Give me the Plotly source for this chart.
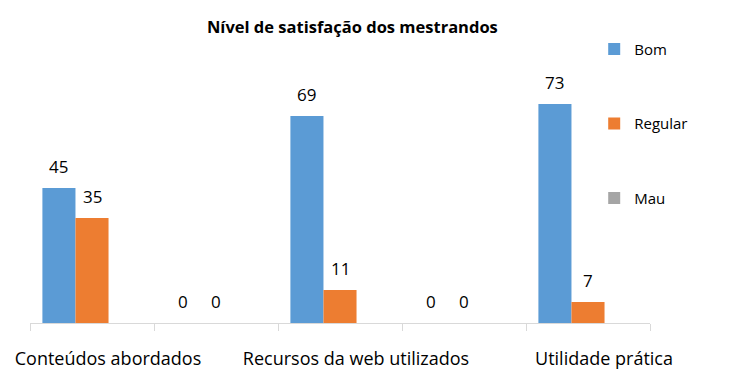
import plotly.graph_objects as go

categories = ["Conteúdos abordados", " ", "Recursos da web utilizados", "  ", "Utilidade prática"]
bom = [45, 0, 69, 0, 73]
regular = [35, 0, 11, 0, 7]
mau = [None, None, None, None, None]

FONT = "Open Sans"
W, H = 745, 381
ML, MR, MT, MB = 30, 95, 83, 58
BARGAP = 0.2
series = [("Bom", bom, "#5B9BD5"), ("Regular", regular, "#ED7D31"), ("Mau", mau, "#A5A5A5")]

fig = go.Figure()
for name, vals, color in series:
    fig.add_trace(go.Bar(
        x=categories, y=vals, name=name, marker_color=color, marker_line_width=0,
        legendgroup=name,
    ))

# value labels placed above each bar through the data axes
cat_px = (W - ML - MR) / len(categories)
bar_px = cat_px * (1 - BARGAP) / len(series)
for k, (name, vals, color) in enumerate(series):
    for c, v in zip(categories, vals):
        if v is None:
            continue
        fig.add_annotation(x=c, y=v, xref="x", yref="y", text=str(v), showarrow=False,
                           xshift=(k - (len(series) - 1) / 2) * bar_px, yshift=22,
                           yanchor="middle", xanchor="center",
                           font=dict(size=17, color="#000000", family=FONT))

fig.update_layout(
    width=W, height=H,
    margin=dict(l=ML, r=MR, t=MT, b=MB, autoexpand=False),
    paper_bgcolor="white", plot_bgcolor="white",
    barmode="group", bargap=BARGAP, bargroupgap=0,
    title=dict(text="<b>Nível de satisfação dos mestrandos</b>", x=0.473, xanchor="center",
               y=1 - 27 / H, yanchor="middle", yref="container",
               font=dict(size=16.5, color="#000000", family=FONT)),
    font=dict(family=FONT, color="#000000"),
    legend=dict(x=0.91, xanchor="left", y=1.209, yanchor="top", tracegroupgap=52,
                font=dict(size=15, color="#000000", family=FONT), bgcolor="rgba(0,0,0,0)",
                itemwidth=30, maxheight=400),
    showlegend=True,
)
fig.update_xaxes(type="category", showline=True, linecolor="#D9D9D9", linewidth=1,
                 ticks="outside", tickson="boundaries", ticklen=7, tickcolor="#D9D9D9",
                 tickangle=0, automargin=False, ticklabelshift=16,
                 ticklabelstandoff=19, tickfont=dict(size=18, color="#000000", family=FONT),
                 showgrid=False, zeroline=False)
fig.update_yaxes(range=[0, 80], visible=False, showgrid=False, zeroline=False)

fig.write_html("out.html", config={"displayModeBar": False},
               post_script="document.body.style.margin='0';document.body.style.overflow='hidden';")
